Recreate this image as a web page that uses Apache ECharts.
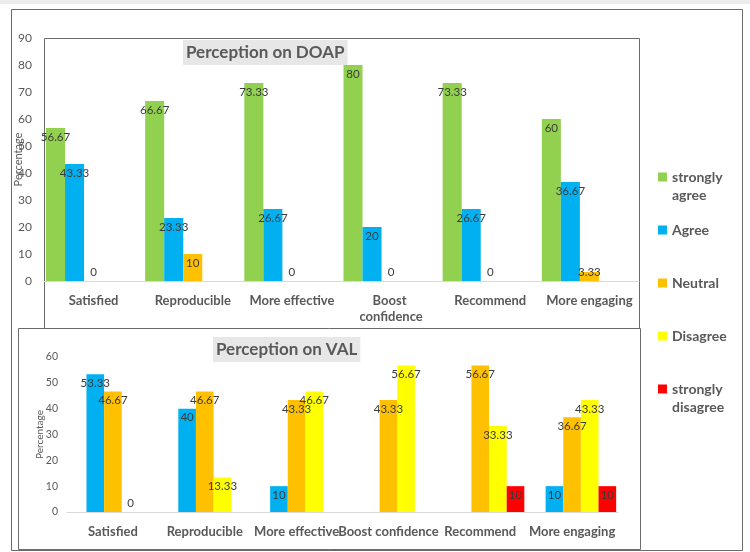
<!DOCTYPE html>
<html>
<head>
<meta charset="utf-8">
<script src="https://cdn.jsdelivr.net/npm/echarts@6/dist/echarts.min.js"></script>
<style>
html, body { margin: 0; background: #fff; }
#main { width: 750px; height: 552px; }
</style>
</head>
<body>
<div id="main"></div>
<script>
var categories = ['Satisfied', 'Reproducible', 'More effective', 'Boost confidence', 'Recommend', 'More engaging'];
var seriesNames = ['strongly agree', 'Agree', 'Neutral', 'Disagree', 'strongly disagree'];
var colors = ['#92d050', '#00b0f0', '#ffc000', '#ffff00', '#ff0000'];

// Perception on DOAP (%)
var doapStronglyAgree = [56.67, 66.67, 73.33, 80, 73.33, 60];
var doapAgree = [43.33, 23.33, 26.67, 20, 26.67, 36.67];
var doapNeutral = [0, 10, 0, 0, 0, 3.33];
var doapDisagree = [null, null, null, null, null, null];
var doapStronglyDisagree = [null, null, null, null, null, null];

// Perception on VAL (%)
var valStronglyAgree = [null, null, null, null, null, null];
var valAgree = [53.33, 40, 10, null, null, 10];
var valNeutral = [46.67, 46.67, 43.33, 43.33, 56.67, 36.67];
var valDisagree = [0, 13.33, 46.67, 56.67, 33.33, 43.33];
var valStronglyDisagree = [null, null, null, null, 10, 10];

var doapMax = 90, valMax = 60, tickStep = 10;

var doapSets = [doapStronglyAgree, doapAgree, doapNeutral, doapDisagree, doapStronglyDisagree];
var valSets = [valStronglyAgree, valAgree, valNeutral, valDisagree, valStronglyDisagree];

var FONT = 'Lato';
var grey = '#595959';

var chart = echarts.init(document.getElementById('main'));

function toData(arr) {
    return arr.map(function (v) {
        if (v === null) return null;
        // small bars get their label sitting just above the axis, like excel does
        return { value: v, label: { position: v < 5 ? 'insideBottom' : 'insideTop' } };
    });
}

function makeSeries(sets, gridIdx) {
    return sets.map(function (arr, i) {
        return {
            name: seriesNames[i],
            type: 'bar',
            xAxisIndex: gridIdx,
            yAxisIndex: gridIdx,
            data: toData(arr),
            itemStyle: { color: colors[i] },
            barGap: '0%',
            barCategoryGap: '4%',
            label: {
                show: true,
                distance: 3,
                color: '#3b3b3b',
                fontFamily: FONT,
                fontSize: 11.5
            }
        };
    });
}

function xAxis(gridIdx, wrap) {
    var lbl = {
        interval: 0,
        color: grey,
        fontFamily: FONT,
        fontWeight: 'bold',
        fontSize: 13,
        margin: 12,
        lineHeight: 16
    };
    if (wrap) { lbl.width = 92; lbl.overflow = 'break'; }
    return {
        type: 'category',
        gridIndex: gridIdx,
        data: categories,
        axisTick: { show: false },
        axisLine: { lineStyle: { color: '#d9d9d9' } },
        axisLabel: lbl
    };
}

function yAxis(gridIdx, max, size, margin, nameGap, nameSize) {
    return {
        type: 'value',
        gridIndex: gridIdx,
        min: 0,
        max: max,
        interval: tickStep,
        name: 'Percentage',
        nameLocation: 'middle',
        nameRotate: 90,
        nameGap: nameGap,
        nameMoveOverlap: false,
        nameTextStyle: { color: grey, fontFamily: FONT, fontSize: nameSize },
        splitLine: { show: false },
        axisLine: { show: false },
        axisTick: { show: false },
        axisLabel: { color: grey, fontFamily: FONT, fontSize: size, margin: margin }
    };
}

// one legend per entry so each can sit where excel put it
var legendCenters = [177, 230, 283, 336, 389];
var legends = seriesNames.map(function (n, i) {
    var twoLine = n.indexOf('strongly ') === 0;
    return {
        data: [n],
        orient: 'vertical',
        left: 658,
        top: legendCenters[i] - (twoLine ? 27 : 9),
        padding: 0,
        itemWidth: 9,
        itemHeight: 9,
        icon: 'rect',
        formatter: function (name) {
            // blank first line keeps the icon level with "strongly"
            return twoLine ? '\n' + name.replace(' ', '\n') : name;
        },
        textStyle: {
            color: grey,
            fontFamily: FONT,
            fontWeight: 'bold',
            fontSize: 14,
            lineHeight: 18
        }
    };
});

var option = {
    animation: false,
    textStyle: { fontFamily: FONT },
    title: [
        {
            text: 'Perception on DOAP',
            left: 183, top: 40,
            backgroundColor: '#e7e7e7',
            padding: [4, 3],
            textStyle: { color: grey, fontFamily: FONT, fontWeight: 'bold', fontSize: 17 }
        },
        {
            text: 'Perception on VAL',
            left: 213, top: 337,
            backgroundColor: '#e7e7e7',
            padding: [4, 3],
            textStyle: { color: grey, fontFamily: FONT, fontWeight: 'bold', fontSize: 17 }
        }
    ],
    legend: legends,
    grid: [
        { left: 44, right: 111, top: 38, bottom: 271, outerBoundsMode: 'none' },
        { left: 67, right: 132, top: 357, bottom: 40, outerBoundsMode: 'none' }
    ],
    xAxis: [xAxis(0, true), xAxis(1, false)],
    yAxis: [yAxis(0, doapMax, 12, 12, 20, 11), yAxis(1, valMax, 10.5, 9, 22, 10)],
    series: makeSeries(doapSets, 0).concat(makeSeries(valSets, 1)),
    graphic: [
        { type: 'rect', shape: { x: 0, y: 0, width: 750, height: 4 }, style: { fill: '#ececec' }, silent: true },
        { type: 'rect', shape: { x: 11.5, y: 9.5, width: 731, height: 541 }, style: { fill: 'none', stroke: '#6b6b6b', lineWidth: 1 }, silent: true, z: -1 },
        { type: 'rect', shape: { x: 44.5, y: 38.5, width: 595, height: 291 }, style: { fill: 'none', stroke: '#6b6b6b', lineWidth: 1 }, silent: true, z: -1 },
        { type: 'rect', shape: { x: 18.5, y: 328.5, width: 622, height: 221 }, style: { fill: '#fff', stroke: '#6b6b6b', lineWidth: 1 }, silent: true, z: -1 }
    ]
};

chart.setOption(option);
</script>
</body>
</html>
